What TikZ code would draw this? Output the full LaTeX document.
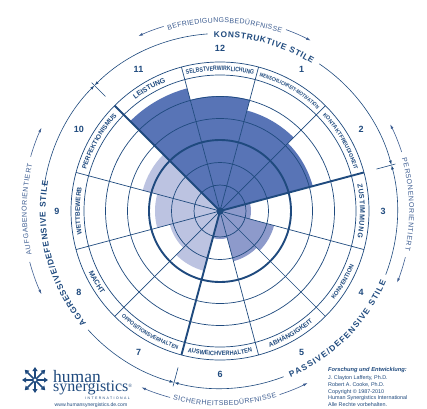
\documentclass[tikz,border=0pt]{standalone}
\usepackage{fontspec}
\setmainfont{Liberation Sans}
\newfontfamily\labf{Liberation Sans}
\newfontfamily\labc[FakeStretch=0.8]{Liberation Sans}
\newfontfamily\labd[FakeStretch=0.9]{Liberation Sans}
\newfontfamily\serf{Liberation Serif}
\newfontfamily\spcf[LetterSpace=40]{Liberation Sans}
\usetikzlibrary{decorations.text,arrows.meta}
\definecolor{hsnavy}{RGB}{31,74,126}
\definecolor{hslight}{RGB}{62,94,146}
\definecolor{fdark}{RGB}{88,116,182}
\definecolor{fmed}{RGB}{141,154,203}
\definecolor{flight}{RGB}{188,195,225}
\newcommand\fB[1]{\labf\bfseries\fontsize{#1}{#1}\selectfont}
\newcommand\fC[1]{\labc\bfseries\fontsize{#1}{#1}\selectfont}
\newcommand\fD[1]{\labd\bfseries\fontsize{#1}{#1}\selectfont}
\newcommand\fR[1]{\labf\fontsize{#1}{#1}\selectfont}
% #1 start angle, #2 end angle, #3 baseline radius, #4 align, #5 text, #6 colour
\newcommand\arcTxt[6]{\path[decorate,decoration={text along path,text={#5},text align={#4},text color=#6}] (#1:#3) arc[start angle=#1,end angle=#2,radius=#3];}
\tikzset{
  gridline/.style={hsnavy,line width=0.7pt},
  thickline/.style={hsnavy,line width=1.9pt},
  arcarrow/.style={hsnavy,line width=0.6pt,-{Latex[length=4.5pt,width=2.8pt]}},
  outarrow/.style={hslight,line width=0.6pt,-{Latex[length=4.5pt,width=2.8pt]}},
  numlabel/.style={text=hsnavy,font=\bfseries\fontsize{9}{10}\selectfont,inner sep=0pt},
  credit/.style={text=hsnavy,font=\fontsize{5.4}{6}\selectfont,inner sep=0pt,anchor=base west},
}
\begin{document}
\begin{tikzpicture}[x=1pt,y=1pt,line join=round]
\useasboundingbox (0,0) rectangle (427,408);
\fill[white] (0,0) rectangle (427,408);
\begin{scope}[shift={(220,197)}]
  % profile fills
  \foreach \c/\r/\col in {120/127/fdark,90/115/fdark,60/104/fdark,30/96/fdark,
      0/31/fmed,-30/56/fmed,-60/52/fmed,-90/28/fmed,
      -120/62/flight,-150/52/flight,180/65/flight,150/80/flight}{
    \fill[\col] (0,0) -- (\c-15:\r) arc[start angle=\c-15,end angle=\c+15,radius=\r] -- cycle;
  }
  % rings
  \foreach \r in {26,48.5,92.5,114.5,136,149}{\draw[gridline] (0,0) circle[radius=\r];}
  \draw[thickline] (0,0) circle[radius=71];
  % spokes
  \foreach \a in {45,75,105,165,195,225,285,315,345}{\draw[gridline] (0,0) -- (\a:149);}
  \foreach \a in {135,15,255}{\draw[thickline] (0,0) -- (\a:149);}
  \fill[hsnavy] (0,0) circle[radius=3.6];
  % ticks between style groups
  \foreach \a in {135,15,255}{\draw[hsnavy,line width=0.6pt] (\a:162) -- (\a:181.5);}
  % style arcs
  \draw[arcarrow] (94:177.5) arc[start angle=94,end angle=135,radius=177.5];
  \draw[arcarrow] (56:177.5) arc[start angle=56,end angle=15,radius=177.5];
  \draw[arcarrow] (-21:177.5) arc[start angle=-21,end angle=15,radius=177.5];
  \draw[arcarrow] (-69:177.5) arc[start angle=-69,end angle=-105,radius=177.5];
  \draw[arcarrow] (172:177.5) arc[start angle=172,end angle=135,radius=177.5];
  \draw[arcarrow] (222:177.5) arc[start angle=222,end angle=255,radius=177.5];
  % outer arcs
  \draw[outarrow] (107:193) arc[start angle=107,end angle=115,radius=193];
  \draw[outarrow] (70:193) arc[start angle=70,end angle=62,radius=193];
  \draw[outarrow] (18:191) arc[start angle=18,end angle=27,radius=191];
  \draw[outarrow] (-14:191) arc[start angle=-14,end angle=-22,radius=191];
  \draw[outarrow] (164:197) arc[start angle=164,end angle=155,radius=197];
  \draw[outarrow] (195:197) arc[start angle=195,end angle=205,radius=197];
  \draw[outarrow] (-105:193) arc[start angle=-105,end angle=-114,radius=193];
  \draw[outarrow] (-72:193) arc[start angle=-72,end angle=-63,radius=193];
  % sector labels
  \arcTxt{195}{165}{140.2}{center}{|\fB{6.5}|WETTBEWERB}{hsnavy}
  \arcTxt{165}{135}{140.2}{center}{|\fB{6.5}|PERFEKTIONISMUS}{hsnavy}
  \arcTxt{135}{105}{140}{center}{|\fB{7}|LEISTUNG}{hsnavy}
  \arcTxt{105}{75}{140.3}{center}{|\fC{6.4}|SELBSTVERWIRKLICHUNG}{hsnavy}
  \arcTxt{75}{45}{140.6}{center}{|\fC{5.4}|MENSCHLICHKEIT-MOTIVATION}{hsnavy}
  \arcTxt{45}{15}{140.5}{center}{|\fB{5.5}|KONTAKTFREUDIGKEIT}{hsnavy}
  \arcTxt{11}{-11}{140}{fit to path}{|\fB{7}|ZUSTIMMUNG}{hsnavy}
  \arcTxt{-45}{-15}{144.6}{center}{|\fB{6}|KONVENTION}{hsnavy}
  \arcTxt{-75}{-45}{144.8}{center}{|\fB{6.5}|ABHÄNGIGKEIT}{hsnavy}
  \arcTxt{-105}{-75}{144.8}{center}{|\fD{6.3}|AUSWEICHVERHALTEN}{hsnavy}
  \arcTxt{-135}{-105}{144.6}{center}{|\fD{5.6}|OPPOSITIONSVERHALTEN}{hsnavy}
  \arcTxt{-165}{-135}{145}{center}{|\fB{7}|MACHT}{hsnavy}
  % style names
  \arcTxt{92}{58}{173.6}{fit to path}{|\fB{8.3}|KONSTRUKTIVE STILE}{hsnavy}
  \arcTxt{220}{170}{174.4}{fit to path}{|\fB{8.3}|AGGRESSIVE/DEFENSIVE STILE}{hsnavy}
  \arcTxt{-67}{-23}{180.4}{fit to path}{|\fB{8.3}|PASSIVE/DEFENSIVE STILE}{hsnavy}
  % outer names
  \arcTxt{106}{71}{188.2}{fit to path}{|\fR{7}|BEFRIEDIGUNGSBEDÜRFNISSE}{hslight}
  \arcTxt{16}{-12}{189.2}{fit to path}{|\fR{7}|PERSONENORIENTIERT}{hslight}
  \arcTxt{193}{166}{193.3}{fit to path}{|\fR{7}|AUFGABENORIENTIERT}{hslight}
  \arcTxt{-104}{-73}{194.5}{fit to path}{|\fR{7}|SICHERHEITSBEDÜRFNISSE}{hslight}
  % numbers
  \foreach \k in {1,...,12}{
    \pgfmathsetmacro\ang{90-30*\k}
    \node[numlabel] (num\k) at (\ang:163) {\k};
  }
\end{scope}
% logo
\coordinate (lg) at (35,28);
\foreach \a in {0,90,180,270}{\draw[hsnavy,line width=1.5pt,-{Triangle[length=4pt,width=5pt]}] (lg) -- ++(\a:13);}
\foreach \a in {45,135,225,315}{\draw[hsnavy,line width=1.5pt,-{Triangle[length=4pt,width=5pt]}] (lg) -- ++(\a:14.5);}
\fill[white] (lg) circle[radius=1.6];
\node[text=hsnavy,font=\serf\fontsize{17.5}{18}\selectfont,inner sep=0pt,anchor=base west] (hum) at (53,26) {human};
\node[text=hsnavy,font=\serf\fontsize{16}{17}\selectfont,inner sep=0pt,anchor=base west] (syn) at (53,16.5) {synergistics\raisebox{4pt}{\fontsize{5}{5}\selectfont ®}};
\node[text=hsnavy,font=\spcf\fontsize{3.5}{4}\selectfont,inner sep=0pt,anchor=base] (intl) at (107.5,8.5) {INTERNATIONAL};
\node[text=hsnavy,font=\fontsize{5.1}{6}\selectfont,inner sep=0pt,anchor=base west] (www) at (54.5,1.3) {www.humansynergistics.de.com};
% credits
\node[credit,font=\bfseries\itshape\fontsize{5.7}{6}\selectfont] (c1) at (328,36.2) {Forschung und Entwicklung:};
\node[credit] (c2) at (328,28.2) {J. Clayton Lafferty, Ph.D.};
\node[credit] (c3) at (328,21.5) {Robert A. Cooke, Ph.D.};
\node[credit] (c4) at (328,14.8) {Copyright © 1987-2010};
\node[credit] (c5) at (328,8.1) {Human Synergistics International};
\node[credit] (c6) at (328,1.4) {Alle Rechte vorbehalten.};
\end{tikzpicture}
\end{document}
